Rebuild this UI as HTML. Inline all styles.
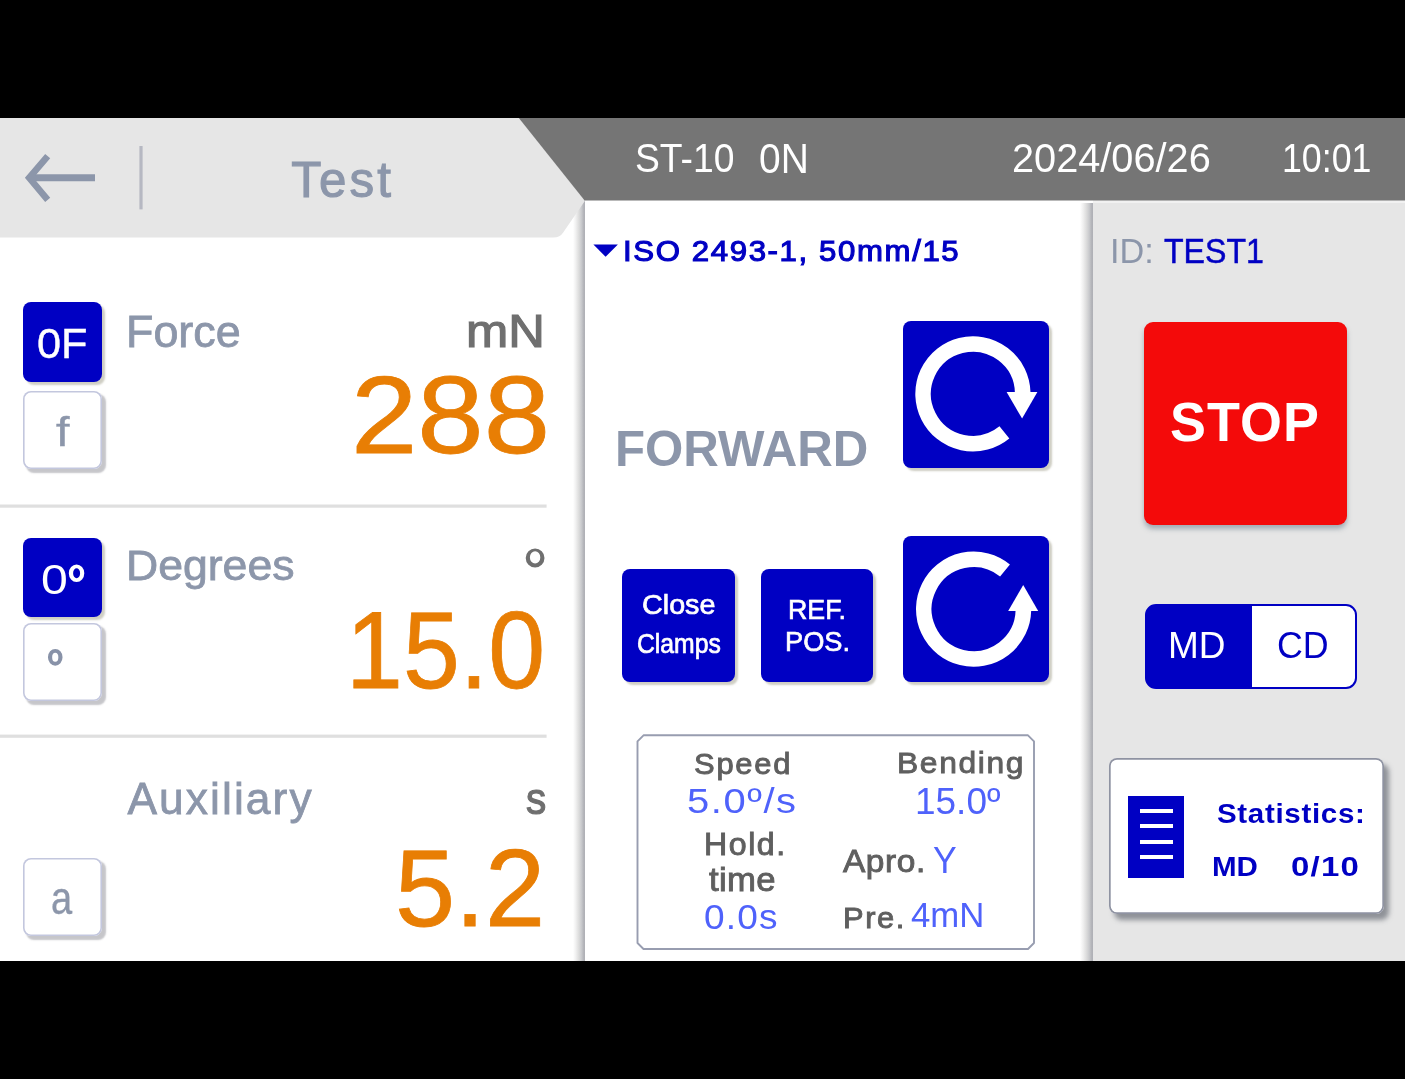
<!DOCTYPE html>
<html>
<head>
<meta charset="utf-8">
<title>Test</title>
<style>
html,body{margin:0;padding:0;background:#000;}
body{width:1405px;height:1079px;overflow:hidden;position:relative;font-family:"Liberation Sans",sans-serif;}
.screen{position:absolute;left:0;top:118px;width:1405px;height:843px;background:#fff;overflow:hidden;}
.screen *{box-sizing:border-box;}
.abs{position:absolute;}
.t{position:absolute;white-space:nowrap;line-height:1;transform-origin:0 0;font-family:"Liberation Sans",sans-serif;}
.bb{position:absolute;background:#0000c3;border-radius:8px;box-shadow:3px 3px 2px rgba(110,105,75,.33);}
.wb{position:absolute;background:#fff;border-radius:8px;box-shadow:inset 0 0 0 1.6px #c3c7de, 3.2px 3.2px 1.6px rgba(70,72,85,.31);}
.vshadow{position:absolute;width:12.4px;background:linear-gradient(to right,rgba(255,255,255,0) 0%,#f1f1f1 22%,#dddddd 48%,#c9cacd 70%,#b4b5ba 88%,#aeafb5 100%);}
</style>
</head>
<body>
<div class="screen">
  <!-- right panel -->
  <div class="abs" style="left:1092.6px;top:82px;width:313px;height:4px;background:#f1f1f1;"></div>
  <div class="abs" style="left:1092.6px;top:85px;width:313px;height:760px;background:#e6e6e6;"></div>
  <div class="vshadow" style="left:1080.4px;top:85px;height:760px;"></div>
  <!-- centre panel shadow -->
  <div class="vshadow" style="left:572.6px;top:82px;height:765px;"></div>

  <!-- header shapes -->
  <svg class="abs" style="left:0;top:0;" width="1405" height="130" viewBox="0 0 1405 130">
    <path d="M0,0 L519,0 L585,82.8 L563.2,114.6 Q560,119.6 553.5,119.6 L0,119.6 Z" fill="#e6e6e6"/>
    <path d="M518.8,0 L1405,0 L1405,82.6 L584.6,82.6 Z" fill="#757575"/>
    <!-- back arrow -->
    <path d="M95,59.8 L30,59.8" stroke="#8c96aa" stroke-width="7.1" fill="none"/>
    <path d="M47.7,38.1 L29.2,59.8 L47.7,81.9" stroke="#8c96aa" stroke-width="6.6" fill="none" stroke-linejoin="miter"/>
    <rect x="139.4" y="28" width="3.2" height="63.4" fill="#b6b8c2"/>
  </svg>

  <!-- left column -->
  <svg class="abs" style="left:0;top:380px;" width="560" height="250" viewBox="0 498 560 250">
    <rect x="-2" y="504.5" width="548.6" height="3.2" fill="#dfdfdf"/>
    <rect x="-2" y="734.6" width="548.6" height="3.2" fill="#dfdfdf"/>
  </svg>

  <div class="bb" style="left:23px;top:184.3px;width:79.2px;height:79.3px;"></div>
  <div class="wb" style="left:23px;top:273px;width:79.2px;height:77.8px;"></div>
  <div class="bb" style="left:23px;top:420px;width:79.2px;height:78.6px;"></div>
  <div class="wb" style="left:23px;top:505px;width:79.2px;height:77.6px;"></div>
  <div class="wb" style="left:23px;top:739.8px;width:79.2px;height:78.2px;"></div>

  <!-- degree glyphs drawn as rings -->
  <svg class="abs" style="left:0;top:0;pointer-events:none" width="600" height="843" viewBox="0 118 600 843">
    <path fill="#6f6f6f" fill-rule="evenodd" d="M525.7,558 a9.4,9.5 0 1 0 18.8,0 a9.4,9.5 0 1 0 -18.8,0 Z M529.9,557.4 a5.2,6.2 0 1 0 10.4,0 a5.2,6.2 0 1 0 -10.4,0 Z"/>
    <path fill="#8892a8" fill-rule="evenodd" d="M47.95,657.3 a7.3,8.4 0 1 0 14.6,0 a7.3,8.4 0 1 0 -14.6,0 Z M52.15,657.3 a3.1,4.5 0 1 0 6.2,0 a3.1,4.5 0 1 0 -6.2,0 Z"/>
    <path fill="#ffffff" fill-rule="evenodd" d="M68.8,573.25 a7.75,8.7 0 1 0 15.5,0 a7.75,8.7 0 1 0 -15.5,0 Z M73.1,573.25 a3.5,5.0 0 1 0 7,0 a3.5,5.0 0 1 0 -7,0 Z"/>
  </svg>

  <!-- centre column -->
  <svg class="abs" style="left:590px;top:120px;" width="32" height="24" viewBox="590 238 32 24">
    <path d="M593.4,244.6 L617.9,244.6 L605.6,256.8 Z" fill="#0000c3"/>
  </svg>

  <div class="bb" style="left:903px;top:203.3px;width:146.2px;height:146.3px;"></div>
  <div class="bb" style="left:903px;top:417.7px;width:146.2px;height:146.1px;"></div>
  <div class="bb" style="left:622px;top:451.3px;width:112.6px;height:112.7px;"></div>
  <div class="bb" style="left:760.9px;top:451.3px;width:112.6px;height:112.7px;"></div>

  <!-- CW icon -->
  <svg class="abs" style="left:903px;top:203px;" width="147" height="147" viewBox="903 321 147 147">
    <path d="M1004.4,432.4 A49.8,49.8 0 1 1 1022.7,392.5" stroke="#fff" stroke-width="15.6" fill="none"/>
    <path d="M1006.6,392 L1037.4,392 L1022.1,418.6 Z" fill="#fff"/>
  </svg>
  <!-- CCW icon -->
  <svg class="abs" style="left:903px;top:417.5px;" width="147" height="147" viewBox="903 535.5 147 147">
    <path d="M1005,570.0 A49.8,49.8 0 1 0 1023.4,609.8" stroke="#fff" stroke-width="15.6" fill="none"/>
    <path d="M1008.2,610.4 L1038.2,610.4 L1023.2,584.4 Z" fill="#fff"/>
  </svg>

  <!-- params box -->
  <svg class="abs" style="left:630px;top:612px;" width="412" height="226" viewBox="630 730 412 226">
    <path d="M643.5,735.3 L1028,735.3 L1034,741.3 L1034,943 L1028,949 L643.5,949 L637.5,943 L637.5,741.3 Z" fill="#fff" stroke="#989db0" stroke-width="1.9" stroke-linejoin="round"/>
  </svg>

  <!-- right column -->
  <div class="abs" style="left:1143.8px;top:203.6px;width:203.7px;height:203.6px;background:#f40a0a;border-radius:9px;box-shadow:0 4px 5px rgba(110,125,140,.55);"></div>

  <div class="abs" style="left:1145px;top:486px;width:212px;height:85px;border:2px solid #0000c3;border-radius:11px;background:linear-gradient(to right,#0000c3 0,#0000c3 105.2px,#fff 105.2px,#fff 100%);"></div>

  <div class="abs" style="left:1109.3px;top:639.7px;width:274.3px;height:156.6px;background:#fff;border-radius:8px;box-shadow:inset 0 0 0 1.7px #8f93a2, 5px 6px 5px rgba(85,90,100,.6);"></div>
  <div class="abs" style="left:1128.1px;top:677.8px;width:56.3px;height:82.6px;background:#0000c3;"></div>
  <div class="abs" style="left:1140.2px;top:691px;width:32.7px;height:4px;background:#fff;"></div>
  <div class="abs" style="left:1140.2px;top:706px;width:32.7px;height:4px;background:#fff;"></div>
  <div class="abs" style="left:1140.2px;top:721.5px;width:32.7px;height:4px;background:#fff;"></div>
  <div class="abs" style="left:1140.2px;top:736.5px;width:32.7px;height:4px;background:#fff;"></div>

<div class="abs" style="left:0;top:0;width:1405px;height:843px;will-change:transform;">
<span class="t" style="left:291.36px;top:37.04px;font-size:49.28px;font-weight:normal;color:#8c96aa;-webkit-text-stroke:1.1px #8c96aa;letter-spacing:3.103px;transform:scaleX(1.0000)">Test</span>
<span class="t" style="left:635.11px;top:20.37px;font-size:41.27px;font-weight:normal;color:#ffffff;letter-spacing:0.000px;transform:scaleX(0.9032)">ST-10</span>
<span class="t" style="left:758.83px;top:19.87px;font-size:41.86px;font-weight:normal;color:#ffffff;letter-spacing:0.000px;transform:scaleX(0.9303)">0N</span>
<span class="t" style="left:1011.91px;top:20.37px;font-size:41.14px;font-weight:normal;color:#ffffff;letter-spacing:0.000px;transform:scaleX(0.9656)">2024/06/26</span>
<span class="t" style="left:1282.40px;top:20.37px;font-size:41.14px;font-weight:normal;color:#ffffff;letter-spacing:0.000px;transform:scaleX(0.8688)">10:01</span>
<span class="t" style="left:37.21px;top:205.09px;font-size:41.71px;font-weight:normal;color:#ffffff;-webkit-text-stroke:0.4px #ffffff;letter-spacing:0.000px;transform:scaleX(1.0378)">0F</span>
<span class="t" style="left:56.26px;top:294.24px;font-size:40.00px;font-weight:normal;color:#8c96aa;-webkit-text-stroke:0.4px #8c96aa;letter-spacing:0.000px;transform:scaleX(1.2054)">f</span>
<span class="t" style="left:125.51px;top:191.84px;font-size:44.49px;font-weight:normal;color:#8c96aa;-webkit-text-stroke:0.8px #8c96aa;letter-spacing:0.000px;transform:scaleX(1.0086)">Force</span>
<span class="t" style="left:466.12px;top:190.39px;font-size:46.09px;font-weight:normal;color:#6f6f6f;-webkit-text-stroke:1.2px #6f6f6f;letter-spacing:0.000px;transform:scaleX(1.1006)">mN</span>
<span class="t" style="left:351.07px;top:242.55px;font-size:109.57px;font-weight:normal;color:#e87e04;-webkit-text-stroke:0.8px #e87e04;letter-spacing:0.000px;transform:scaleX(1.0891)">288</span>
<span class="t" style="left:40.66px;top:440.12px;font-size:42.86px;font-weight:normal;color:#ffffff;letter-spacing:0.000px;transform:scaleX(1.1238)">0</span>
<span class="t" style="left:126.25px;top:426.31px;font-size:42.75px;font-weight:normal;color:#8c96aa;-webkit-text-stroke:0.8px #8c96aa;letter-spacing:0.000px;transform:scaleX(1.0425)">Degrees</span>
<span class="t" style="left:346.21px;top:476.88px;font-size:110.00px;font-weight:normal;color:#e87e04;-webkit-text-stroke:0.8px #e87e04;letter-spacing:0.000px;transform:scaleX(0.9300)">15.0</span>
<span class="t" style="left:127.40px;top:658.76px;font-size:44.35px;font-weight:normal;color:#8c96aa;-webkit-text-stroke:0.8px #8c96aa;letter-spacing:2.077px;transform:scaleX(1.0000)">Auxiliary</span>
<span class="t" style="left:51.44px;top:757.07px;font-size:46.11px;font-weight:normal;color:#8c96aa;-webkit-text-stroke:0.4px #8c96aa;letter-spacing:0.000px;transform:scaleX(0.8245)">a</span>
<span class="t" style="left:526.13px;top:657.95px;font-size:45.19px;font-weight:normal;color:#6f6f6f;-webkit-text-stroke:1.2px #6f6f6f;letter-spacing:0.000px;transform:scaleX(0.8963)">s</span>
<span class="t" style="left:395.37px;top:716.45px;font-size:108.86px;font-weight:normal;color:#e87e04;-webkit-text-stroke:0.8px #e87e04;letter-spacing:0.000px;transform:scaleX(0.9927)">5.2</span>
<span class="t" style="left:622.69px;top:118.65px;font-size:28.59px;font-weight:normal;color:#0000c3;-webkit-text-stroke:1.1px #0000c3;letter-spacing:1.489px;transform:scaleX(1.0900)">ISO 2493-1, 50mm/15</span>
<span class="t" style="left:614.85px;top:306.13px;font-size:50.29px;font-weight:bold;color:#8c96aa;letter-spacing:0.000px;transform:scaleX(0.9782)">FORWARD</span>
<span class="t" style="left:641.82px;top:472.11px;font-size:28.29px;font-weight:normal;color:#ffffff;-webkit-text-stroke:0.7px #ffffff;letter-spacing:0.000px;transform:scaleX(1.0159)">Close</span>
<span class="t" style="left:636.59px;top:513.12px;font-size:26.86px;font-weight:normal;color:#ffffff;-webkit-text-stroke:0.7px #ffffff;letter-spacing:0.000px;transform:scaleX(0.9209)">Clamps</span>
<span class="t" style="left:787.59px;top:477.39px;font-size:28.43px;font-weight:normal;color:#ffffff;-webkit-text-stroke:0.7px #ffffff;letter-spacing:0.000px;transform:scaleX(0.9421)">REF.</span>
<span class="t" style="left:784.57px;top:510.24px;font-size:27.89px;font-weight:normal;color:#ffffff;-webkit-text-stroke:0.7px #ffffff;letter-spacing:0.000px;transform:scaleX(0.9751)">POS.</span>
<span class="t" style="left:694.34px;top:630.63px;font-size:29.44px;font-weight:normal;color:#5f5f5f;-webkit-text-stroke:0.9px #5f5f5f;letter-spacing:1.679px;transform:scaleX(1.0500)">Speed</span>
<span class="t" style="left:686.60px;top:664.67px;font-size:35.36px;font-weight:normal;color:#4f62fb;letter-spacing:1.393px;transform:scaleX(1.1300)">5.0º/s</span>
<span class="t" style="left:703.50px;top:710.96px;font-size:30.58px;font-weight:normal;color:#5f5f5f;-webkit-text-stroke:0.9px #5f5f5f;letter-spacing:1.473px;transform:scaleX(1.0500)">Hold.</span>
<span class="t" style="left:709.43px;top:745.15px;font-size:33.08px;font-weight:normal;color:#5f5f5f;-webkit-text-stroke:0.9px #5f5f5f;letter-spacing:0.332px;transform:scaleX(1.0500)">time</span>
<span class="t" style="left:704.49px;top:780.83px;font-size:35.29px;font-weight:normal;color:#4f62fb;letter-spacing:1.141px;transform:scaleX(1.0500)">0.0s</span>
<span class="t" style="left:896.93px;top:629.91px;font-size:30.29px;font-weight:normal;color:#5f5f5f;-webkit-text-stroke:0.9px #5f5f5f;letter-spacing:1.550px;transform:scaleX(1.0500)">Bending</span>
<span class="t" style="left:915.01px;top:665.63px;font-size:36.23px;font-weight:normal;color:#4f62fb;letter-spacing:0.000px;transform:scaleX(1.0207)">15.0º</span>
<span class="t" style="left:842.87px;top:727.66px;font-size:31.88px;font-weight:normal;color:#5f5f5f;-webkit-text-stroke:0.9px #5f5f5f;letter-spacing:0.519px;transform:scaleX(1.0500)">Apro.</span>
<span class="t" style="left:933.19px;top:724.92px;font-size:36.96px;font-weight:normal;color:#4f62fb;letter-spacing:0.000px;transform:scaleX(0.9621)">Y</span>
<span class="t" style="left:842.60px;top:785.35px;font-size:29.42px;font-weight:normal;color:#5f5f5f;-webkit-text-stroke:0.9px #5f5f5f;letter-spacing:1.487px;transform:scaleX(1.0500)">Pre.</span>
<span class="t" style="left:911.40px;top:780.09px;font-size:34.86px;font-weight:normal;color:#4f62fb;letter-spacing:0.000px;transform:scaleX(0.9974)">4mN</span>
<span class="t" style="left:1110.02px;top:116.30px;font-size:34.49px;font-weight:normal;color:#8c96aa;letter-spacing:0.000px;transform:scaleX(0.9936)">ID:</span>
<span class="t" style="left:1164.09px;top:116.30px;font-size:34.79px;font-weight:normal;color:#0000c3;-webkit-text-stroke:0.5px #0000c3;letter-spacing:0.000px;transform:scaleX(0.9225)">TEST1</span>
<span class="t" style="left:1170.02px;top:275.98px;font-size:56.14px;font-weight:bold;color:#ffffff;letter-spacing:1.098px;transform:scaleX(0.9600)">STOP</span>
<span class="t" style="left:1168.04px;top:509.88px;font-size:36.52px;font-weight:normal;color:#ffffff;letter-spacing:0.000px;transform:scaleX(1.0127)">MD</span>
<span class="t" style="left:1276.81px;top:509.88px;font-size:36.52px;font-weight:normal;color:#0000c3;letter-spacing:0.000px;transform:scaleX(0.9801)">CD</span>
<span class="t" style="left:1216.91px;top:681.34px;font-size:28.43px;font-weight:bold;color:#0000c3;letter-spacing:0.629px;transform:scaleX(1.0400)">Statistics:</span>
<span class="t" style="left:1211.73px;top:733.64px;font-size:28.43px;font-weight:bold;color:#0000c3;letter-spacing:0.000px;transform:scaleX(1.0387)">MD</span>
<span class="t" style="left:1291.01px;top:733.64px;font-size:28.43px;font-weight:bold;color:#0000c3;letter-spacing:1.034px;transform:scaleX(1.1600)">0/10</span>
</div>
</div>
</body>
</html>
